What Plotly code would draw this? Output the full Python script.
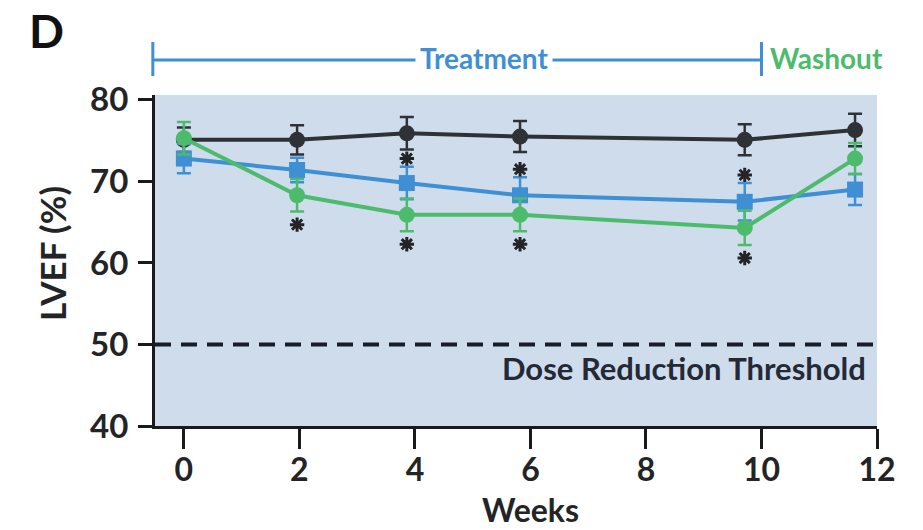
import plotly.graph_objects as go

# ---- data ----
weeks = [0, 1.96, 3.86, 5.82, 9.71, 11.62]
black_vals = [75.1, 75.1, 75.9, 75.5, 75.1, 76.3]
black_err = [1.5, 1.8, 2.0, 1.9, 1.9, 2.0]
blue_vals = [72.8, 71.4, 69.8, 68.3, 67.5, 69.0]
blue_err = [1.8, 1.5, 2.0, 2.2, 2.3, 1.9]
green_vals = [75.3, 68.3, 65.9, 65.9, 64.3, 72.8]
green_err = [2.0, 2.0, 2.0, 2.0, 2.1, 1.9]
blue_sig = [False, False, True, True, True, False]
green_sig = [False, True, True, True, True, False]
x_ticks = [0, 2, 4, 6, 8, 10, 12]
y_ticks = [40, 50, 60, 70, 80]
threshold = 50

BLACK = "#2e3236"
BLUE = "#3f8fd4"
GREEN = "#4dbb6c"
TXT = "#222426"
FONT = "Lato"

fig = go.Figure()

def add_series(vals, errs, color, symbol):
    fig.add_trace(go.Scatter(
        x=weeks, y=vals, mode="lines+markers",
        line=dict(color=color, width=4),
        marker=dict(color=color, size=16, symbol=symbol),
        error_y=dict(type="data", array=errs, color=color, thickness=2.5, width=7),
        showlegend=False, cliponaxis=False))

add_series(black_vals, black_err, BLACK, "circle")
add_series(blue_vals, blue_err, BLUE, "square")
add_series(green_vals, green_err, GREEN, "circle")

# significance asterisks
ax_x, ax_y = [], []
for w, v, e, s in zip(weeks, blue_vals, blue_err, blue_sig):
    if s:
        ax_x.append(w); ax_y.append(v + e + 1.0)
for w, v, e, s in zip(weeks, green_vals, green_err, green_sig):
    if s:
        ax_x.append(w); ax_y.append(v - e - 1.6)
fig.add_trace(go.Scatter(
    x=ax_x, y=ax_y, mode="markers",
    marker=dict(symbol="asterisk-open", size=12, color=TXT, line=dict(color=TXT, width=3)),
    showlegend=False))

# threshold line
fig.add_shape(type="line", xref="paper", x0=0, x1=1, yref="y", y0=threshold, y1=threshold,
              line=dict(color="#161c28", width=4, dash="16px,10px"))
fig.add_annotation(x=11.85, y=47.1, xref="x", yref="y", text="Dose Reduction Threshold",
                   showarrow=False, xanchor="right", yanchor="middle",
                   font=dict(family=FONT, size=31, color="#232a36", weight="bold"))

# treatment / washout bracket
yb = 1.1057
fig.add_shape(type="line", xref="paper", x0=-0.003, x1=-0.003, yref="paper", y0=1.0574, y1=1.160,
              line=dict(color=BLUE, width=3))
fig.add_shape(type="line", xref="x", x0=10, x1=10, yref="paper", y0=1.0574, y1=1.160,
              line=dict(color=BLUE, width=3))
fig.add_shape(type="line", xref="paper", x0=-0.003, yref="paper", y0=yb, y1=yb,
              x1=(762 - 155) / 722, line=dict(color=BLUE, width=3))
fig.add_annotation(x=5.19, y=1.112, xref="x", yref="paper", text="Treatment", showarrow=False,
                   xanchor="center", yanchor="middle", bgcolor="white", borderpad=4,
                   font=dict(family=FONT, size=28, color=BLUE, weight="bold"))
fig.add_annotation(x=10.12, y=1.112, xref="x", yref="paper", text="Washout", showarrow=False,
                   xanchor="left", yanchor="middle",
                   font=dict(family=FONT, size=28, color=GREEN, weight="bold"))

# panel letter & axis titles
fig.add_annotation(x=-0.1496, y=1.196, xref="paper", yref="paper", text="D", showarrow=False,
                   xanchor="center", yanchor="middle",
                   font=dict(family=FONT, size=46, color="#111111", weight="bold"))
fig.add_annotation(x=-0.1427, y=0.5227, xref="paper", yref="paper", text="LVEF (%)",
                   textangle=-90, showarrow=False, xanchor="center", yanchor="middle",
                   font=dict(family=FONT, size=35, color=TXT, weight="bold"))
fig.add_annotation(x=6, y=-0.2508, xref="x", yref="paper", text="Weeks", showarrow=False,
                   xanchor="center", yanchor="middle",
                   font=dict(family=FONT, size=32, color=TXT, weight="bold"))

fig.update_layout(
    width=923, height=530,
    margin=dict(l=155, r=46, t=95, b=104),
    paper_bgcolor="white", plot_bgcolor="#cfdcec",
    font=dict(family=FONT, color=TXT),
    xaxis=dict(range=[-0.5, 12.0], tickvals=x_ticks, showgrid=False, zeroline=False,
               showline=True, linecolor="#1a1a1a", linewidth=3,
               ticks="outside", ticklen=20, tickwidth=3, tickcolor="#1a1a1a",
               ticklabelstandoff=-6,
               tickfont=dict(family=FONT, size=32, color=TXT, weight="bold")),
    yaxis=dict(range=[40, 80.6], tickvals=y_ticks, showgrid=False, zeroline=False,
               showline=True, linecolor="#1a1a1a", linewidth=3,
               ticks="outside", ticklen=14, tickwidth=3, tickcolor="#1a1a1a",
               ticklabelstandoff=3,
               tickfont=dict(family=FONT, size=33, color=TXT, weight="bold")),
)

fig.write_html("out.html", config={"displayModeBar": False},
               post_script="document.body.style.margin='0';")
